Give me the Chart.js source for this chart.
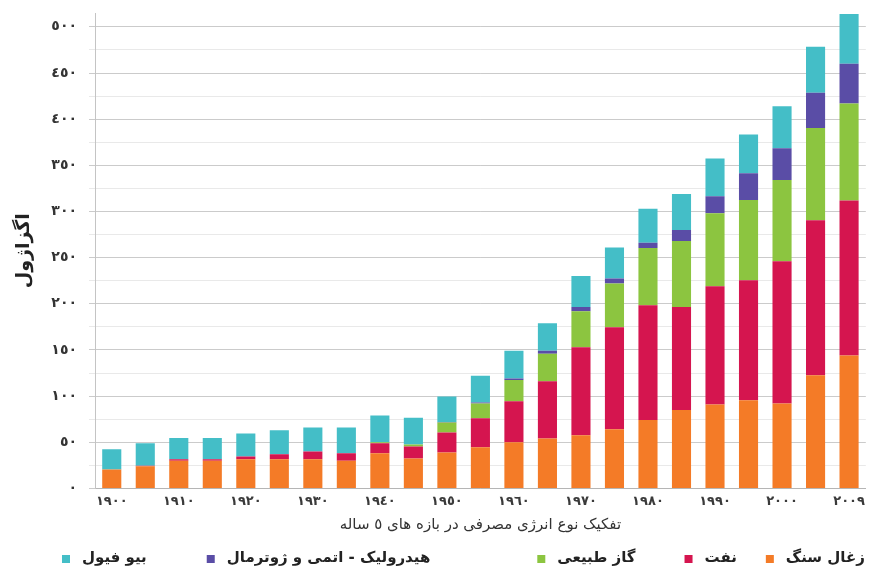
<!DOCTYPE html>
<html lang="fa">
<head>
<meta charset="utf-8">
<title>مصرف انرژی</title>
<script src="https://cdn.jsdelivr.net/npm/chart.js@4.4.1/dist/chart.umd.min.js"></script>
<style>
  html, body { margin: 0; padding: 0; background: #fff; }
  #wrap { width: 870px; height: 570px; }
</style>
</head>
<body>
<div id="wrap"><canvas id="energy-chart" width="870" height="570"></canvas></div>
<script>
(function () {
  "use strict";

  // five-year steps, last bar is 2009
  var years = [1900, 1905, 1910, 1915, 1920, 1925, 1930, 1935, 1940, 1945, 1950, 1955,
               1960, 1965, 1970, 1975, 1980, 1985, 1990, 1995, 2000, 2005, 2009];

  // exajoules
  var coal  = [20.5, 24, 30, 30, 31.5, 31.5, 31.5, 30, 38, 32.5, 39, 44.5,
               50, 54, 57.5, 64, 74, 85, 91, 95.5, 92, 122.5, 144];
  var oil   = [0, 0.5, 1.5, 1.5, 3, 5.5, 8.5, 8, 11, 13, 21.5, 31.5,
               44.5, 62, 95.5, 110.5, 124.5, 111.5, 128, 130, 154, 168, 168];
  var gas   = [0, 0, 0, 0, 0, 0, 0, 0, 1, 2, 11, 16,
               23, 30, 39, 47.5, 62, 71.5, 79, 87, 88, 100, 105];
  var hydro = [0, 0, 0, 0, 0, 0, 0, 0, 0, 0, 0.5, 1,
               1.5, 3, 4.5, 5.5, 5.5, 12, 18.5, 29, 34.5, 38, 43];
  var bio   = [22, 24.5, 23, 23, 25, 26, 26, 28, 29, 29, 27.5, 29,
               30, 30, 33.5, 33.5, 37, 39, 41, 42, 45.5, 50, 54];

  var seriesNames = ['زغال سنگ', 'نفت', 'گاز طبیعی', 'هیدرولیک - اتمی و ژوترمال', 'بیو فیول'];
  var seriesColors = ['#F47B27', '#D5154F', '#8CC540', '#5A4DA6', '#44BEC7'];

  // only every other year gets a label
  var xTickLabels = ['١٩٠٠', '', '١٩١٠', '', '١٩٢٠', '', '١٩٣٠', '', '١٩٤٠', '', '١٩٥٠', '',
                     '١٩٦٠', '', '١٩٧٠', '', '١٩٨٠', '', '١٩٩٠', '', '٢٠٠٠', '', '٢٠٠٩'];
  var yMax = 515;
  var yStep = 25;

  var yTitle = 'اگزاژول';
  var xTitle = 'تفکیک نوع انرژی مصرفی در بازه های ٥ ساله';

  var FONT = "'DejaVu Sans', 'Noto Sans', sans-serif";

  function arabicDigits(n) {
    return String(n).replace(/[0-9]/g, function (d) {
      return String.fromCharCode(0x0660 + Number(d));
    });
  }

  // right-to-left legend row under the axis title
  var rtlLegend = {
    id: 'rtlLegend',
    afterDraw: function (chart, args, opts) {
      var ctx = chart.ctx;
      var sets = chart.data.datasets;
      var y = chart.scales.x.bottom + opts.offsetY;
      var x = chart.chartArea.right - opts.rightInset;
      ctx.save();
      ctx.font = 'bold ' + opts.fontSize + 'px ' + FONT;
      ctx.textAlign = 'right';
      ctx.textBaseline = 'middle';
      for (var i = 0; i < sets.length; i++) {
        var w = ctx.measureText(sets[i].label).width;
        ctx.fillStyle = opts.color;
        ctx.fillText(sets[i].label, x, y);
        var bx = x - w - opts.boxGap - opts.boxSize;
        ctx.fillStyle = sets[i].backgroundColor;
        ctx.fillRect(bx, y + 1 - opts.boxSize / 2, opts.boxSize, opts.boxSize);
        x = bx - (opts.itemGaps[i] || 0);
      }
      ctx.restore();
    }
  };

  var values = [coal, oil, gas, hydro, bio];
  var datasets = values.map(function (vals, i) {
    return {
      label: seriesNames[i],
      data: vals,
      backgroundColor: seriesColors[i],
      borderWidth: 0,
      barPercentage: 0.57,
      categoryPercentage: 1.0
    };
  });

  var ctx = document.getElementById('energy-chart').getContext('2d');
  new Chart(ctx, {
    type: 'bar',
    data: {
      labels: years,
      datasets: datasets
    },
    plugins: [rtlLegend],
    options: {
      responsive: false,
      animation: false,
      layout: { padding: { top: 13, right: 3, bottom: 36, left: 0 } },
      plugins: {
        tooltip: { enabled: false },
        legend: { display: false },
        rtlLegend: {
          offsetY: 24,
          rightInset: 1,
          fontSize: 15,
          boxSize: 8,
          boxGap: 12,
          itemGaps: [29, 49, 107, 60],
          color: '#222'
        }
      },
      scales: {
        x: {
          stacked: true,
          grid: { display: false, drawTicks: false },
          border: { display: true, color: '#b5b5b5', width: 1 },
          ticks: {
            padding: 5,
            autoSkip: false,
            maxRotation: 0,
            color: '#3a3a3a',
            font: { family: FONT, size: 13, weight: 'bold' },
            callback: function (value, index) { return xTickLabels[index]; }
          },
          title: {
            display: true,
            text: xTitle,
            color: '#333',
            padding: { top: 2, bottom: 0 },
            font: { family: FONT, size: 15 }
          }
        },
        y: {
          stacked: true,
          min: 0,
          max: yMax,
          afterFit: function (scale) {
            scale.width = 95;
            // top of the axis sits flush with the layout padding
            scale.paddingTop = 0;
          },
          grid: {
            color: function (c) {
              return c.tick && c.tick.value % 50 === 0 ? '#cbcbcb' : '#e9e9e9';
            },
            tickLength: 6
          },
          border: { display: true, color: '#c4c4c4' },
          ticks: {
            stepSize: yStep,
            includeBounds: false,
            padding: 12,
            color: '#333',
            font: { family: FONT, size: 14, weight: 'bold' },
            callback: function (v) { return v % 50 === 0 ? arabicDigits(v) : ''; }
          },
          title: {
            display: true,
            text: yTitle,
            color: '#222',
            padding: { top: 13, bottom: 0 },
            font: { family: FONT, size: 19, weight: 'bold' }
          }
        }
      }
    }
  });
})();
</script>
</body>
</html>
